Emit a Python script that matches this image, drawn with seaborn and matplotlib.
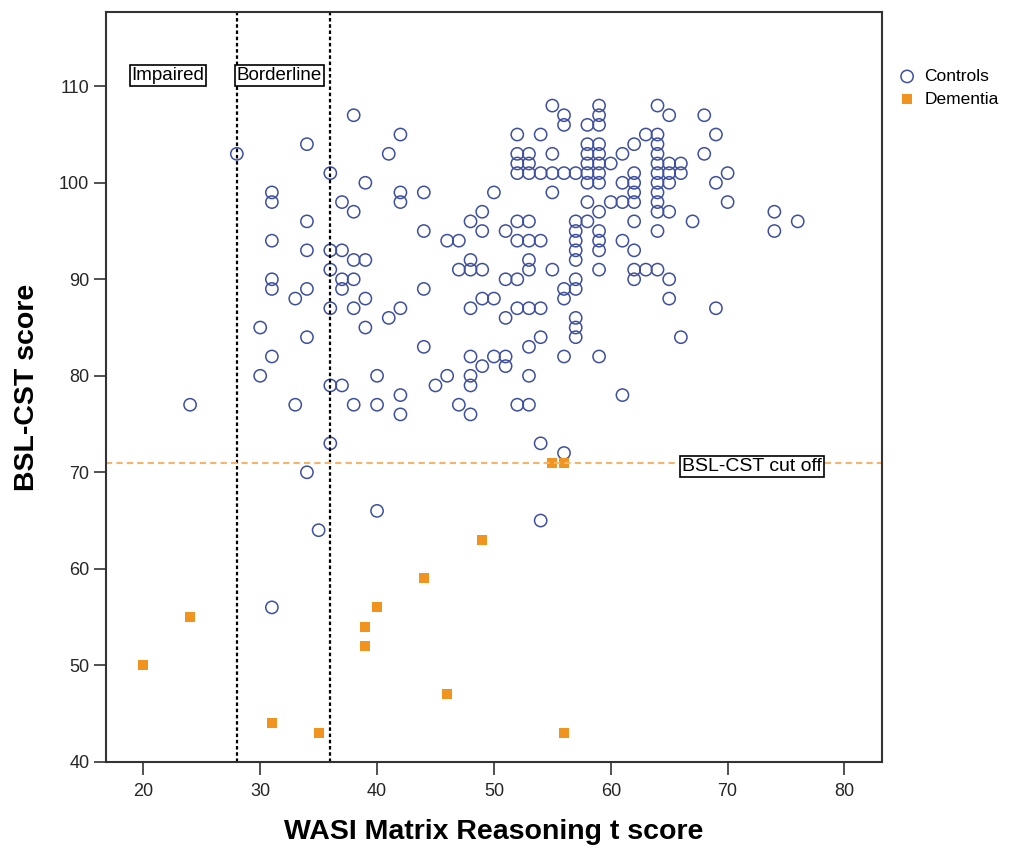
import pandas as pd
import matplotlib
matplotlib.use("Agg")
import matplotlib.pyplot as plt
import seaborn as sns

# Control group: (WASI t score, BSL-CST score)
ctrl_x = [24, 28, 30, 30,
          31, 31, 31, 31, 31, 31, 31,
          33, 33,
          34, 34, 34, 34, 34, 34,
          35,
          36, 36, 36, 36, 36, 36,
          37, 37, 37, 37, 37,
          38, 38, 38, 38, 38, 38,
          39, 39, 39, 39,
          40, 40, 40,
          41, 41,
          42, 42, 42, 42, 42, 42,
          44, 44, 44, 44,
          45, 46, 46, 47, 47, 47,
          48, 48, 48, 48, 48, 48, 48, 48,
          49, 49, 49, 49, 49,
          50, 50, 50,
          51, 51, 51, 51, 51,
          52, 52, 52, 52, 52, 52, 52, 52, 52,
          53, 53, 53, 53, 53, 53, 53, 53, 53, 53, 53,
          54, 54, 54, 54, 54, 54, 54,
          55, 55, 55, 55, 55,
          56, 56, 56, 56, 56, 56, 56,
          57, 57, 57, 57, 57, 57, 57, 57, 57, 57, 57,
          58, 58, 58, 58, 58, 58, 58, 58,
          59, 59, 59, 59, 59, 59, 59, 59, 59, 59, 59, 59, 59, 59,
          60, 60,
          61, 61, 61, 61, 61,
          62, 62, 62, 62, 62, 62, 62, 62, 62,
          63, 63,
          64, 64, 64, 64, 64, 64, 64, 64, 64, 64, 64, 64,
          65, 65, 65, 65, 65, 65, 65,
          66, 66, 66,
          67, 68, 68,
          69, 69, 69,
          70, 70,
          74, 74, 76]
ctrl_y = [77, 103, 85, 80,
          99, 98, 94, 90, 89, 82, 56,
          88, 77,
          104, 96, 93, 89, 84, 70,
          64,
          101, 93, 91, 87, 79, 73,
          98, 93, 90, 89, 79,
          107, 97, 92, 90, 87, 77,
          100, 92, 88, 85,
          80, 77, 66,
          103, 86,
          105, 99, 98, 87, 78, 76,
          99, 95, 89, 83,
          79, 94, 80, 94, 91, 77,
          96, 92, 91, 87, 82, 80, 79, 76,
          97, 95, 91, 88, 81,
          99, 88, 82,
          95, 90, 86, 82, 81,
          105, 103, 102, 101, 96, 94, 90, 87, 77,
          103, 102, 101, 96, 94, 92, 91, 87, 83, 80, 77,
          105, 101, 94, 87, 84, 73, 65,
          108, 103, 101, 99, 91,
          107, 106, 101, 89, 88, 82, 72,
          101, 96, 95, 94, 93, 92, 90, 89, 86, 85, 84,
          106, 104, 103, 102, 101, 100, 98, 96,
          108, 107, 106, 104, 103, 102, 101, 100, 97, 95, 94, 93, 91, 82,
          102, 98,
          103, 100, 98, 94, 78,
          104, 101, 100, 99, 98, 96, 93, 91, 90,
          105, 91,
          108, 105, 104, 103, 102, 101, 100, 99, 98, 97, 95, 91,
          107, 102, 101, 100, 97, 90, 88,
          102, 101, 84,
          96, 107, 103,
          105, 100, 87,
          101, 98,
          97, 95, 96]

# Dementia group
dem_x = [20, 24, 31, 35, 39, 39, 40, 44, 46, 49, 55, 56, 56]
dem_y = [50, 55, 44, 43, 54, 52, 56, 59, 47, 63, 71, 71, 43]

cutoff = 71
wasi_lines = [28, 36]
band_labels = ["Impaired", "Borderline"]
band_x = [19, 28]

ctrl = pd.DataFrame({"wasi": ctrl_x, "bsl": ctrl_y})
dem = pd.DataFrame({"wasi": dem_x, "bsl": dem_y})

sns.set_style("white")
plt.rcParams["font.family"] = ["Liberation Sans", "DejaVu Sans"]

blue = "#3f4f9f"
orange = "#f0941f"

fig = plt.figure(figsize=(10.09, 8.55), dpi=100)
ax = fig.add_axes([0.105, 0.109, 0.769, 0.877])

sns.scatterplot(data=ctrl, x="wasi", y="bsl", marker="o", s=78,
                color=blue, linewidth=1.1, label="Controls", ax=ax)
sns.scatterplot(data=dem, x="wasi", y="bsl", marker="s", s=50,
                color=orange, linewidth=0, label="Dementia", ax=ax)

# hollow circles for controls
ax.collections[0].set_facecolor("none")
ax.collections[0].set_edgecolor(blue)

for xv in wasi_lines:
    ax.axvline(xv, color="black", ls=(0, (1.6, 1.2)), lw=1.6, zorder=1)
ax.axhline(cutoff, color="#f5b46a", ls=(0, (3, 2)), lw=1.5, zorder=1)

box = dict(boxstyle="square,pad=0.1", fc="white", ec="black", lw=1.2)
for lab, xv in zip(band_labels, band_x):
    ax.text(xv, 111.1, lab, fontsize=13.5, va="center", ha="left",
            color="black", bbox=box)
ax.text(66.1, 70.6, "BSL-CST cut off", fontsize=14, va="center",
        ha="left", color="black", bbox=box)

ax.set_xlim(16.8, 83.2)
ax.set_ylim(40, 117.7)
ax.set_xticks(range(20, 81, 10))
ax.set_yticks(range(40, 111, 10))
ax.tick_params(axis="both", labelsize=13, length=9, width=1.2,
               direction="out", left=True, bottom=True, color="#333333")
ax.tick_params(axis="y", pad=3)
ax.tick_params(axis="x", pad=6)
for sp in ax.spines.values():
    sp.set_linewidth(1.5)
    sp.set_color("#333333")

ax.set_xlabel("WASI Matrix Reasoning t score", fontsize=20.5,
              fontweight="bold", labelpad=14, color="black")
ax.set_ylabel("BSL-CST score", fontsize=20.5, fontweight="bold", labelpad=14,
              color="black")

leg = ax.legend(loc="upper left", bbox_to_anchor=(0.99, 0.945), frameon=False,
                fontsize=12.5, handletextpad=0.0, labelspacing=0.45)
for t in leg.get_texts():
    t.set_color("black")

fig.savefig("out.png", dpi=100)
